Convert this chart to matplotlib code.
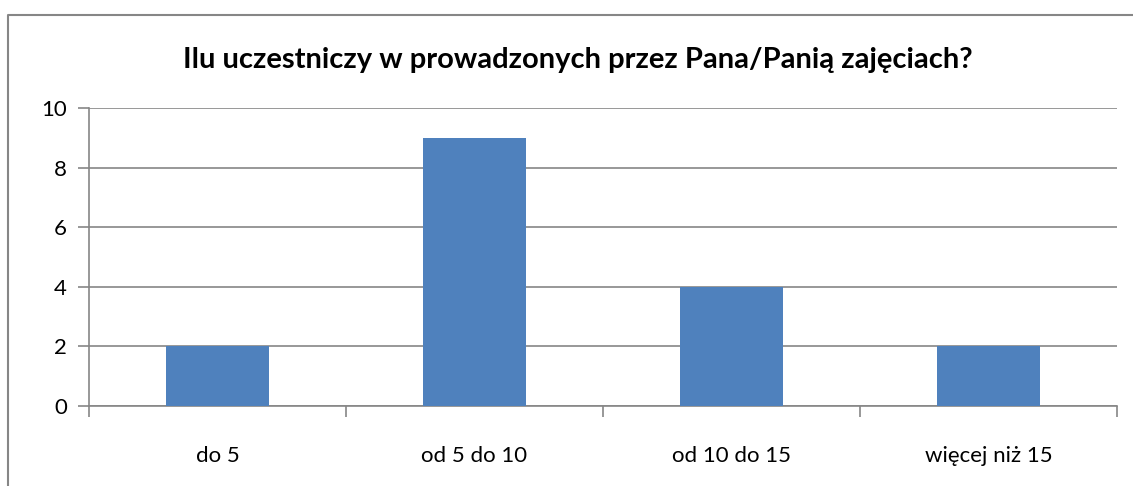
import matplotlib.pyplot as plt
from matplotlib.lines import Line2D
import numpy as np

categories = ['do 5', 'od 5 do 10', 'od 10 do 15', 'więcej niż 15']
values = [2, 9, 4, 2]
title = 'Ilu uczestniczy w prowadzonych przez Pana/Panią zajęciach?'

plt.rcParams['font.family'] = ['Lato', 'DejaVu Sans']

W, H = 1133, 486
fig = plt.figure(figsize=(W / 100, H / 100), dpi=100)
ax = fig.add_axes([89 / W, 1 - 406 / H, (1117 - 89) / W, (406 - 108) / H])

x = np.arange(len(categories))
ax.bar(x, values, width=0.4, color='#4F81BD', zorder=3)

ax.set_xlim(-0.5, len(categories) - 0.5)
ax.set_ylim(0, 10)
ax.set_yticks(range(0, 11, 2))
ax.grid(axis='y', color='#868686', linewidth=1.2, zorder=0)

# category labels centred, tick marks at category boundaries
ax.set_xticks(x)
ax.set_xticklabels(categories, fontsize=16)
ax.tick_params(axis='x', length=0, pad=29)
ax.set_xticks(np.arange(-0.5, len(categories)), minor=True)
ax.tick_params(axis='x', which='minor', length=8, color='#868686', width=1.2)
ax.tick_params(axis='y', length=8, color='#868686', width=1.2, labelsize=16, pad=8)

for s in ['top', 'right']:
    ax.spines[s].set_visible(False)
for s in ['left', 'bottom']:
    ax.spines[s].set_color('#868686')
    ax.spines[s].set_linewidth(1.2)

fig.text(578 / W, 1 - 60 / H, title, ha='center', va='center',
         fontsize=21, fontweight='bold')

# outer chart border (left and top edges visible)
fig.add_artist(Line2D([8 / W, 8 / W, 1.0], [0.0, 1 - 15 / H, 1 - 15 / H],
                      transform=fig.transFigure, color='#868686', linewidth=1.5))

fig.savefig('out.png', dpi=100)
